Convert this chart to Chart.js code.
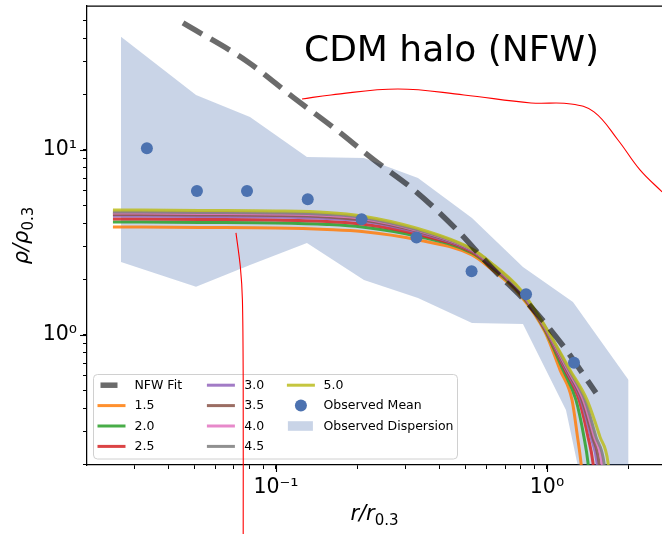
<!DOCTYPE html>
<html>
<head>
<meta charset="utf-8">
<script src="https://cdn.jsdelivr.net/npm/chart.js@4.4.0/dist/chart.umd.min.js"></script>
<style>
  html, body { margin: 0; padding: 0; background: #fff; overflow: hidden; }
  #wrap { width: 662px; height: 534px; }
  canvas { display: block; }
</style>
</head>
<body>
<div id="wrap"><canvas id="chart" width="662" height="534"></canvas></div>
<script>
// observed mean profile
const meanR = [0.0334, 0.0511, 0.0782, 0.131, 0.207, 0.330, 0.527, 0.837, 1.258];
const meanRho = [10.2, 6.0, 6.0, 5.41, 4.22, 3.36, 2.21, 1.66, 0.708];

// observed dispersion envelope (upper and lower edges)
const dispUpperR = [0.0268, 0.0507, 0.0802, 0.1301, 0.2112, 0.3342, 0.5288, 0.8155, 1.247, 2.0];
const dispUpperRho = [40.97, 19.83, 15.08, 9.17, 9.05, 7.06, 4.29, 2.33, 1.508, 0.571];
const dispLowerR = [0.0268, 0.0507, 0.0802, 0.1301, 0.2112, 0.3342, 0.5288, 0.8155, 1.175, 2.0];
const dispLowerRho = [2.48, 1.82, 2.39, 3.14, 1.98, 1.585, 1.161, 1.147, 0.393, 0.01];

// NFW fit
const nfwR = [0.0454, 0.0788, 0.1155, 0.1637, 0.2299, 0.3229, 0.4536, 0.6214, 0.873, 1.155, 1.516];
const nfwRho = [48.6, 29.9, 19.3, 13.15, 8.83, 6.08, 3.84, 2.33, 1.417, 0.861, 0.486];

// cored model curves
const modelLabels = ['1.5', '2.0', '2.5', '3.0', '3.5', '4.0', '4.5', '5.0'];
const modelColors = ['#ff7f0e', '#2ca02c', '#d62728', '#9467bd', '#8c564b', '#e377c2', '#7f7f7f', '#bcbd22'];
const coreR = [0.02503, 0.05243, 0.1, 0.1542, 0.2076, 0.3285, 0.5288, 0.6161, 0.7951, 0.983];
const coreRho = [
  [3.835, 3.811, 3.787, 3.718, 3.627, 3.282, 2.706, 2.302, 1.645, 1.038],
  [4.081, 4.056, 4.030, 3.956, 3.835, 3.428, 2.775, 2.360, 1.676, 1.064],
  [4.236, 4.210, 4.183, 4.107, 3.981, 3.515, 2.810, 2.390, 1.697, 1.077],
  [4.397, 4.370, 4.343, 4.263, 4.132, 3.604, 2.846, 2.420, 1.718, 1.091],
  [4.481, 4.452, 4.425, 4.343, 4.183, 3.649, 2.863, 2.435, 1.729, 1.098],
  [4.565, 4.537, 4.509, 4.425, 4.263, 3.694, 2.881, 2.450, 1.740, 1.105],
  [4.623, 4.594, 4.565, 4.481, 4.316, 3.718, 2.899, 2.466, 1.751, 1.111],
  [4.740, 4.710, 4.681, 4.594, 4.397, 3.787, 2.917, 2.481, 1.773, 1.118]
];
const tailRho = [0.647, 0.4453, 0.281, 0.2033, 0.1645];
const tailR = [
  [1.117, 1.237, 1.296, 1.335, 1.352],
  [1.146, 1.279, 1.369, 1.417, 1.435],
  [1.165, 1.313, 1.417, 1.478, 1.497],
  [1.175, 1.335, 1.453, 1.530, 1.549],
  [1.185, 1.346, 1.472, 1.556, 1.575],
  [1.195, 1.364, 1.497, 1.596, 1.616],
  [1.206, 1.381, 1.516, 1.623, 1.644],
  [1.216, 1.405, 1.569, 1.680, 1.701]
];

// red hand-drawn marks
const markTopR = [0.1248, 0.1596, 0.2819, 0.494, 0.873, 1.226, 1.491, 1.828, 2.204, 2.66];
const markTopRho = [18.87, 19.83, 21.37, 19.83, 17.95, 17.73, 16.05, 11.32, 7.80, 5.93];
const markVertR = [0.0712, 0.0739, 0.0752, 0.0757, 0.0757];
const markVertRho = [3.56, 2.33, 1.546, 0.571, 0.08];

const BLUE = '#4c72b0';
const FONT = '"DejaVu Sans", sans-serif';

const pts = (xs, ys) => xs.map((x, i) => ({ x: x, y: ys[i] }));

const sup = { '-': '\u207b', '0': '\u2070', '1': '\u00b9', '2': '\u00b2', '3': '\u00b3', '4': '\u2074', '5': '\u2075', '6': '\u2076', '7': '\u2077', '8': '\u2078', '9': '\u2079' };
function powLabel(v) {
  const e = Math.log10(v);
  if (Math.abs(e - Math.round(e)) > 1e-6) return '';
  return '10' + String(Math.round(e)).split('').map(c => sup[c]).join('');
}
function logTicks(scale) {
  const out = [];
  const lo = Math.floor(Math.log10(scale.min)), hi = Math.ceil(Math.log10(scale.max));
  for (let e = lo; e <= hi; e++) {
    for (let m = 1; m <= 9; m++) {
      const v = m * Math.pow(10, e);
      if (v > scale.min * 1.001 && v < scale.max * 0.999) out.push({ value: v });
    }
  }
  scale.ticks = out;
}
function isDecade(v) {
  const e = Math.log10(v);
  return Math.abs(e - Math.round(e)) < 1e-6;
}

const datasets = [];
datasets.push({
  label: 'Observed Mean', data: pts(meanR, meanRho), showLine: false,
  pointRadius: 6, pointBackgroundColor: BLUE, pointBorderWidth: 0, order: 2
});
datasets.push({
  label: 'NFW Fit', data: pts(nfwR, nfwRho), borderColor: 'rgba(0,0,0,0.58)',
  borderWidth: 5.5, borderDash: [22, 10], borderCapStyle: 'butt', pointRadius: 0,
  cubicInterpolationMode: 'monotone', order: 5
});
modelLabels.forEach((lab, k) => {
  datasets.push({
    label: lab, data: pts(coreR.concat(tailR[k]), coreRho[k].concat(tailRho)),
    borderColor: modelColors[k] + 'dd', borderWidth: 3, pointRadius: 0,
    cubicInterpolationMode: 'monotone', order: 20 - k
  });
});
datasets.push({
  label: 'Observed Dispersion', data: pts(dispUpperR, dispUpperRho), fill: '+1',
  backgroundColor: 'rgba(76,114,176,0.3)', borderColor: 'rgba(0,0,0,0)', borderWidth: 0,
  pointRadius: 0, tension: 0, order: 50
});
datasets.push({
  label: '_lower', data: pts(dispLowerR, dispLowerRho), fill: false,
  borderColor: 'rgba(0,0,0,0)', borderWidth: 0, pointRadius: 0, tension: 0, order: 51
});
datasets.push({
  label: '_mark', data: pts(markTopR, markTopRho), borderColor: '#ff0000', borderWidth: 1.1,
  pointRadius: 0, tension: 0.4, order: 0, clip: false
});
datasets.push({
  label: '_mark', data: pts(markVertR, markVertRho), borderColor: '#ff0000', borderWidth: 1.1,
  pointRadius: 0, tension: 0.3, order: 0, clip: false
});

function findSet(chart, label) {
  return chart.data.datasets.find(d => d.label === label);
}

let legendDrawn = false;
function drawLegend(chart) {
  const ctx = chart.ctx, area = chart.chartArea;
  const bx = area.left + 6.5, bw = 364, bh = 84.5, by = area.bottom - 6 - bh;
  ctx.save();
  ctx.beginPath();
  ctx.roundRect(bx, by, bw, bh, 4);
  ctx.fillStyle = 'rgba(255,255,255,0.8)';
  ctx.fill();
  ctx.strokeStyle = '#d0d0d0';
  ctx.lineWidth = 1;
  ctx.stroke();

  const cols = [
    ['NFW Fit', '1.5', '2.0', '2.5'],
    ['3.0', '3.5', '4.0', '4.5'],
    ['5.0', 'Observed Mean', 'Observed Dispersion']
  ];
  const handleX = [4, 113.4, 193.4];
  const textX = [41, 150.7, 230];
  const hl = 28;
  ctx.font = '12.5px ' + FONT;
  ctx.textBaseline = 'middle';
  ctx.textAlign = 'left';
  cols.forEach((col, c) => {
    col.forEach((lab, r) => {
      const cy = by + 10.7 + r * 20.4;
      const hx = bx + handleX[c];
      const ds = findSet(chart, lab);
      if (lab === 'NFW Fit') {
        ctx.strokeStyle = ds.borderColor; ctx.lineWidth = ds.borderWidth; ctx.lineCap = 'butt';
        ctx.beginPath(); ctx.moveTo(hx + 3, cy); ctx.lineTo(hx + 20, cy); ctx.stroke();
      } else if (lab === 'Observed Mean') {
        ctx.fillStyle = BLUE;
        ctx.beginPath(); ctx.arc(hx + hl / 2, cy, 6, 0, Math.PI * 2); ctx.fill();
      } else if (lab === 'Observed Dispersion') {
        ctx.fillStyle = ds.backgroundColor;
        ctx.fillRect(hx + 1, cy - 4.8, hl - 3, 9.6);
      } else {
        ctx.strokeStyle = ds.borderColor; ctx.lineWidth = 3; ctx.lineCap = 'butt';
        ctx.beginPath(); ctx.moveTo(hx, cy); ctx.lineTo(hx + hl, cy); ctx.stroke();
      }
      ctx.fillStyle = '#000';
      ctx.fillText(lab, bx + textX[c], cy + 0.5);
    });
  });
  ctx.restore();
}

const decor = {
  id: 'decor',
  beforeDraw() { legendDrawn = false; },
  beforeDatasetDraw(chart, args) {
    if (!legendDrawn && chart.data.datasets[args.index].label === '_mark') {
      drawLegend(chart);
      legendDrawn = true;
    }
  },
  afterDraw(chart) {
    const ctx = chart.ctx, area = chart.chartArea;
    const xs = chart.scales.x, ys = chart.scales.y;
    if (!legendDrawn) { drawLegend(chart); legendDrawn = true; }
    ctx.save();
    // top spine
    ctx.strokeStyle = '#000';
    ctx.lineWidth = 1.25;
    ctx.beginPath(); ctx.moveTo(area.left, area.top); ctx.lineTo(area.right, area.top); ctx.stroke();
    // longer major ticks
    ctx.lineWidth = 1.1;
    xs.ticks.filter(t => isDecade(t.value)).forEach(t => {
      const p = Math.round(xs.getPixelForValue(t.value)) + 0.5;
      ctx.beginPath(); ctx.moveTo(p, area.bottom); ctx.lineTo(p, area.bottom + 7); ctx.stroke();
    });
    ys.ticks.filter(t => isDecade(t.value)).forEach(t => {
      const p = Math.round(ys.getPixelForValue(t.value)) + 0.5;
      ctx.beginPath(); ctx.moveTo(area.left - 7, p); ctx.lineTo(area.left, p); ctx.stroke();
    });

    // axis titles with subscripts
    ctx.fillStyle = '#000';
    ctx.textBaseline = 'alphabetic';
    ctx.textAlign = 'left';
    const mainF = 'italic 21px ' + FONT, subF = '15px ' + FONT;
    // x title
    ctx.font = mainF; const wm = ctx.measureText('r/r').width;
    ctx.font = subF; const ws = ctx.measureText('0.3').width;
    let sx = (area.left + area.right) / 2 - (wm + ws) / 2;
    ctx.font = mainF; ctx.fillText('r/r', sx, 520);
    ctx.font = subF; ctx.fillText('0.3', sx + wm, 525);
    // y title
    ctx.font = mainF; const wm2 = ctx.measureText('\u03c1/\u03c1').width;
    ctx.font = subF; const ws2 = ctx.measureText('0.3').width;
    ctx.save();
    ctx.translate(28, (area.top + area.bottom) / 2);
    ctx.rotate(-Math.PI / 2);
    const sy = -(wm2 + ws2) / 2;
    ctx.font = mainF; ctx.fillText('\u03c1/\u03c1', sy, 0);
    ctx.font = subF; ctx.fillText('0.3', sy + wm2, 4.5);
    ctx.restore();

    // panel title
    ctx.font = '36px ' + FONT;
    ctx.fillText('CDM halo (NFW)', 304, 61);
    ctx.restore();
  }
};

new Chart(document.getElementById('chart'), {
  type: 'line',
  data: { datasets: datasets },
  plugins: [decor],
  options: {
    responsive: false,
    devicePixelRatio: 1,
    animation: false,
    events: [],
    layout: { autoPadding: false, padding: { top: 6, right: 0, left: 0, bottom: 0 } },
    plugins: { legend: { display: false }, tooltip: { enabled: false } },
    scales: {
      x: {
        type: 'logarithmic', min: 0.02008, max: 2.657,
        afterBuildTicks: logTicks,
        afterFit: (s) => { s.height = 69; s.paddingLeft = 0; s.paddingRight = 0; },
        border: { display: true, color: '#000', width: 1.25 },
        grid: { display: true, drawOnChartArea: false, drawTicks: true, tickLength: 4, tickColor: '#000', tickWidth: 1 },
        ticks: { autoSkip: false, maxRotation: 0, color: '#000', padding: 6, font: { family: FONT, size: 20.5 }, callback: (v) => powLabel(v) }
      },
      y: {
        type: 'logarithmic', min: 0.198, max: 60,
        afterBuildTicks: logTicks,
        afterFit: (s) => { s.width = 87; s.paddingTop = 0; s.paddingBottom = 0; },
        border: { display: true, color: '#000', width: 1.25 },
        grid: { display: true, drawOnChartArea: false, drawTicks: true, tickLength: 4, tickColor: '#000', tickWidth: 1 },
        ticks: { autoSkip: false, color: '#000', padding: 6, font: { family: FONT, size: 20.5 }, callback: (v) => powLabel(v) }
      }
    }
  }
});
</script>
</body>
</html>
